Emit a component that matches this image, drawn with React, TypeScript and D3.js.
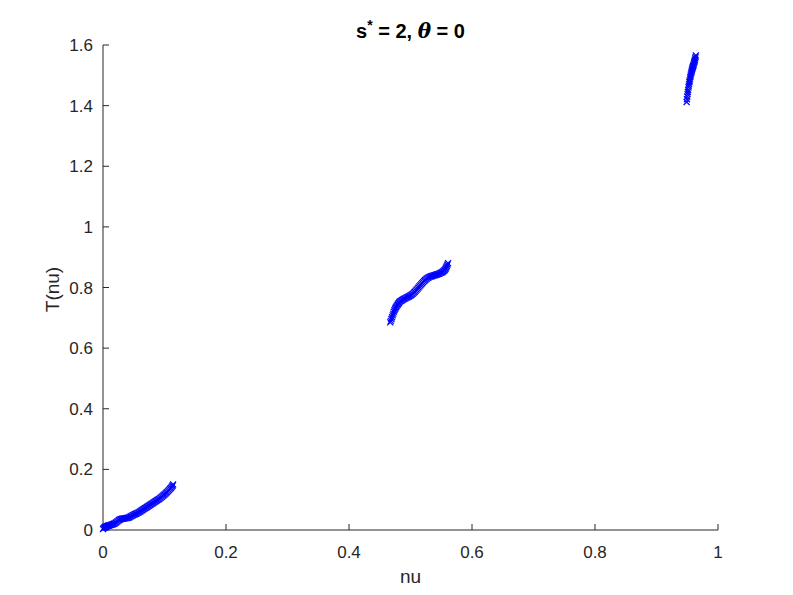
import React from "react";
import * as d3 from "d3";

const nuA = [0, 0.001, 0.002, 0.003, 0.004, 0.005, 0.006, 0.007, 0.008, 0.009, 0.01, 0.0115, 0.013, 0.0145, 0.016, 0.0175, 0.019, 0.0205, 0.022, 0.0235, 0.025, 0.0265, 0.028, 0.0295, 0.031, 0.0325, 0.034, 0.0355, 0.037, 0.0385, 0.04, 0.0415, 0.043, 0.0445, 0.046, 0.0475, 0.049, 0.0505, 0.052, 0.0535, 0.055, 0.0565, 0.058, 0.0595, 0.061, 0.0625, 0.064, 0.0655, 0.067, 0.0685, 0.07, 0.0715, 0.073, 0.0745, 0.076, 0.0775, 0.079, 0.0805, 0.082, 0.0835, 0.085, 0.0865, 0.088, 0.0895, 0.091, 0.0925, 0.094, 0.0955, 0.097, 0.0985, 0.1, 0.1015, 0.103, 0.1045, 0.106, 0.1075, 0.109, 0.1105, 0.112, 0.113, 0.114];
const tA = [0.003, 0.006, 0.008, 0.009, 0.01, 0.011, 0.012, 0.013, 0.014, 0.0145, 0.015, 0.016, 0.017, 0.018, 0.019, 0.0205, 0.022, 0.024, 0.026, 0.0285, 0.031, 0.033, 0.035, 0.036, 0.037, 0.0375, 0.038, 0.0385, 0.039, 0.0395, 0.04, 0.041, 0.042, 0.044, 0.046, 0.0475, 0.049, 0.0505, 0.052, 0.0535, 0.055, 0.0565, 0.058, 0.06, 0.062, 0.064, 0.066, 0.068, 0.07, 0.072, 0.074, 0.076, 0.078, 0.08, 0.082, 0.084, 0.086, 0.088, 0.09, 0.092, 0.094, 0.096, 0.098, 0.1, 0.102, 0.1045, 0.107, 0.1095, 0.112, 0.1145, 0.117, 0.12, 0.123, 0.126, 0.129, 0.1325, 0.136, 0.1395, 0.143, 0.146, 0.15];

const nuB = [0.467, 0.468, 0.469, 0.47, 0.471, 0.472, 0.473, 0.474, 0.475, 0.476, 0.477, 0.478, 0.479, 0.48, 0.481, 0.482, 0.483, 0.4845, 0.486, 0.4875, 0.489, 0.4905, 0.492, 0.4935, 0.495, 0.4965, 0.498, 0.4995, 0.501, 0.5025, 0.504, 0.5055, 0.507, 0.5085, 0.51, 0.5115, 0.513, 0.5145, 0.516, 0.5175, 0.519, 0.5205, 0.522, 0.5235, 0.525, 0.5265, 0.528, 0.5295, 0.531, 0.5325, 0.534, 0.5355, 0.537, 0.5385, 0.54, 0.5415, 0.543, 0.5445, 0.546, 0.5475, 0.549, 0.5505, 0.552, 0.5535, 0.555, 0.556, 0.557, 0.558, 0.559, 0.56, 0.561];
const tB = [0.685, 0.69, 0.696, 0.702, 0.708, 0.714, 0.72, 0.725, 0.73, 0.734, 0.737, 0.74, 0.743, 0.746, 0.749, 0.752, 0.754, 0.756, 0.758, 0.76, 0.762, 0.7635, 0.765, 0.7665, 0.768, 0.7695, 0.771, 0.773, 0.775, 0.7775, 0.78, 0.783, 0.786, 0.7895, 0.793, 0.7965, 0.8, 0.8035, 0.807, 0.8105, 0.814, 0.8175, 0.821, 0.824, 0.827, 0.8295, 0.832, 0.8335, 0.835, 0.836, 0.837, 0.838, 0.839, 0.84, 0.841, 0.842, 0.843, 0.844, 0.845, 0.8465, 0.848, 0.8495, 0.851, 0.8535, 0.856, 0.859, 0.862, 0.866, 0.87, 0.875, 0.88];

const nuC = [0.949, 0.9495, 0.95, 0.9505, 0.951, 0.9515, 0.952, 0.9525, 0.953, 0.9535, 0.954, 0.9545, 0.955, 0.9555, 0.956, 0.9565, 0.957, 0.9575, 0.958, 0.9585, 0.959, 0.9595, 0.96, 0.9605, 0.961, 0.9615, 0.962, 0.9625, 0.963, 0.9635, 0.964];
const tC = [1.412, 1.421, 1.43, 1.438, 1.445, 1.452, 1.46, 1.466, 1.472, 1.478, 1.483, 1.489, 1.494, 1.499, 1.503, 1.508, 1.512, 1.516, 1.52, 1.524, 1.527, 1.53, 1.533, 1.536, 1.54, 1.544, 1.548, 1.552, 1.556, 1.561, 1.566];

const xTicks = [0, 0.2, 0.4, 0.6, 0.8, 1];
const yTicks = [0, 0.2, 0.4, 0.6, 0.8, 1, 1.2, 1.4, 1.6];

const W = 793, H = 595;
const L = 103, R = 718, T = 45, B = 530;

export default function App() {
  const x = d3.scaleLinear().domain([0, 1]).range([L, R]);
  const y = d3.scaleLinear().domain([0, 1.6]).range([B, T]);
  const pts: [number, number][] = [];
  [[nuA, tA], [nuB, tB], [nuC, tC]].forEach(([ns, ts]) => {
    ns.forEach((n, i) => pts.push([n, ts[i]]));
  });
  const ax = "#262626";
  const font = "'Liberation Sans', Arial, Helvetica, sans-serif";
  const m = 3;
  return (
    <svg width={W} height={H} style={{ position: "absolute", left: 0, top: 0, background: "#fff" }} fontFamily={font}>
      <rect width={W} height={H} fill="#fff" />
      <line x1={L} x2={R} y1={B} y2={B} stroke={ax} strokeWidth={1} />
      <line x1={L} x2={L} y1={T} y2={B} stroke={ax} strokeWidth={1} />
      {xTicks.map((t) => (
        <g key={"x" + t}>
          <line x1={x(t)} x2={x(t)} y1={B} y2={B - 6} stroke={ax} />
          <text x={x(t)} y={B + 28} textAnchor="middle" fontSize={17} fill={ax}>{t}</text>
        </g>
      ))}
      {yTicks.map((t) => (
        <g key={"y" + t}>
          <line x1={L} x2={L + 6} y1={y(t)} y2={y(t)} stroke={ax} />
          <text x={L - 10} y={y(t) + 6} textAnchor="end" fontSize={17} fill={ax}>{t}</text>
        </g>
      ))}
      <text x={(L + R) / 2} y={583} textAnchor="middle" fontSize={19} fill={ax}>nu</text>
      <text transform={`translate(59,${(T + B) / 2 + 2}) rotate(-90)`} textAnchor="middle" fontSize={19} fill={ax}>T(nu)</text>
      <text x={(L + R) / 2} y={38} textAnchor="middle" fontSize={20} fontWeight="bold" fill="#000">
        s<tspan dy={-8} fontSize={14}>*</tspan><tspan dy={8}> = 2, </tspan><tspan fontStyle="italic" fontFamily="'DejaVu Serif', serif">θ</tspan> = 0
      </text>
      <g stroke="#0000ff" strokeWidth={1.2}>
        {pts.map(([n, t], i) => (
          <path key={i} d={`M${x(n) - m},${y(t) - m}L${x(n) + m},${y(t) + m}M${x(n) - m},${y(t) + m}L${x(n) + m},${y(t) - m}`} />
        ))}
      </g>
    </svg>
  );
}
